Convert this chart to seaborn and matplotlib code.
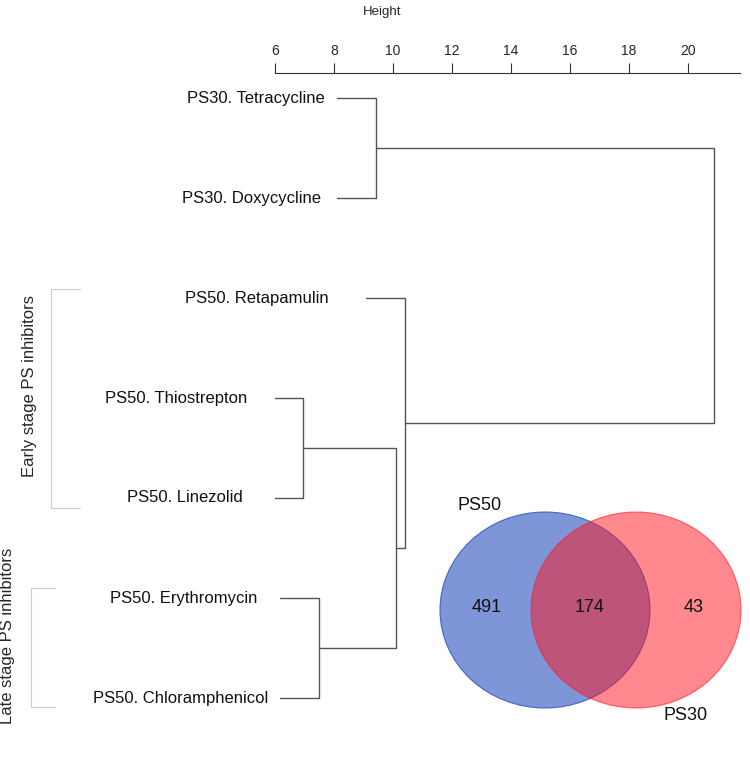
import numpy as np
import pandas as pd
import matplotlib
matplotlib.use("Agg")
import matplotlib.pyplot as plt
from matplotlib.patches import Ellipse
import seaborn as sns

sns.set_theme(style="white")
plt.rcParams['font.family'] = ['Liberation Sans', 'DejaVu Sans']

# Leaf labels (top to bottom)
labels = ["PS30. Tetracycline", "PS30. Doxycycline", "PS50. Retapamulin",
          "PS50. Thiostrepton", "PS50. Linezolid", "PS50. Erythromycin",
          "PS50. Chloramphenicol"]

# Merge table, R style: negative = leaf (1-based), positive = earlier merge
merge_left = [-1, -4, -6, 2, -3, 1]
merge_right = [-2, -5, -7, 3, 4, 5]
merge_height = [9.42, 6.95, 7.49, 10.10, 10.41, 20.88]
hang = 1.33

# Venn diagram counts
venn_sets = ["PS50", "PS30"]
venn_counts = [491, 174, 43]   # PS50 only, both, PS30 only

# Group annotations
groups = ["Early stage PS inhibitors", "Late stage PS inhibitors"]

# gaps between label end and leaf line (pixels)
label_gap = [12, 16, 37, 17, 21, 22, 11]

# build dendrogram segments
node_y = {}
node_h = {}
rows = []
for k, (l, r, h) in enumerate(zip(merge_left, merge_right, merge_height), start=1):
    pts = []
    for child in (l, r):
        if child < 0:
            cy, ch = -child - 1, h - hang
            node_y[child] = cy
            node_h[child] = ch
        else:
            cy, ch = node_y[child], node_h[child]
        pts.append((ch, cy))
    (xl, yl), (xr, yr) = pts
    path = [(xl, yl), (h, yl), (h, yr), (xr, yr)]
    for j, (px, py) in enumerate(path):
        rows.append({"seg": k, "order": j, "height": px, "pos": py})
    node_y[k] = (yl + yr) / 2
    node_h[k] = h
seg_df = pd.DataFrame(rows)

fig = plt.figure(figsize=(7.5, 7.6), dpi=100)

# overlay axes in pixel coordinates for brackets, venn
ov = fig.add_axes([0, 0, 1, 1])
ov.set_xlim(0, 750)
ov.set_ylim(760, 0)
ov.axis("off")

ax = fig.add_axes([275 / 750, 1 - 740 / 760, 465 / 750, 667 / 760])
ax.patch.set_alpha(0)
sns.lineplot(data=seg_df, x="height", y="pos", units="seg", estimator=None,
             sort=False, color="#555555", linewidth=1.0, ax=ax, legend=False)
ax.set_xlim(6, 6 + 465 / 29.5)
ax.set_ylim(6.42, -0.25)
ax.xaxis.tick_top()
ax.set_xticks(np.arange(6, 21, 2))
ax.tick_params(axis="x", direction="out", length=7, width=0.8, color="#333333",
               labelsize=10, pad=4, top=True, bottom=False)
ax.set_yticks([])
ax.set_xlabel("")
ax.set_ylabel("")
for side in ["left", "right", "bottom"]:
    ax.spines[side].set_visible(False)
ax.spines["top"].set_color("#333333")
ax.spines["top"].set_linewidth(0.8)
fig.text(382 / 750, 1 - 12 / 760, "Height", ha="center", va="center", fontsize=9.5)

for i, lab in enumerate(labels):
    ax.annotate(lab, xy=(node_h[-(i + 1)], i), xytext=(-label_gap[i] * 0.72, 0),
                textcoords="offset points", ha="right", va="center",
                fontsize=12, color="#111111", annotation_clip=False)

# brackets
for (x0, x1, y0, y1) in [(51, 80, 289, 508), (31, 55, 588, 707)]:
    ov.plot([x1, x0, x0, x1], [y0, y0, y1, y1], color="#cccccc", linewidth=0.8)
ov.text(30, 386, groups[0], rotation=90, ha="center", va="center", fontsize=12)
ov.text(8, 636, groups[1], rotation=90, ha="center", va="center", fontsize=12)

# venn
ov.add_patch(Ellipse((545, 610), 210, 196, facecolor=(40 / 255, 80 / 255, 190 / 255, 0.6),
                     edgecolor=(40 / 255, 80 / 255, 190 / 255, 0.8), linewidth=0.8))
ov.add_patch(Ellipse((636, 610), 210, 196, facecolor=(1.0, 20 / 255, 30 / 255, 0.5),
                     edgecolor=(1.0, 20 / 255, 30 / 255, 0.6), linewidth=0.8))
ov.text(480, 506, venn_sets[0], ha="center", va="center", fontsize=13, color="#111111")
ov.text(686, 715, venn_sets[1], ha="center", va="center", fontsize=13, color="#111111")
for cx, n in zip([487, 590, 694], venn_counts):
    ov.text(cx, 608, str(n), ha="center", va="center", fontsize=13, color="#111111")

fig.savefig("out.png", dpi=100)
